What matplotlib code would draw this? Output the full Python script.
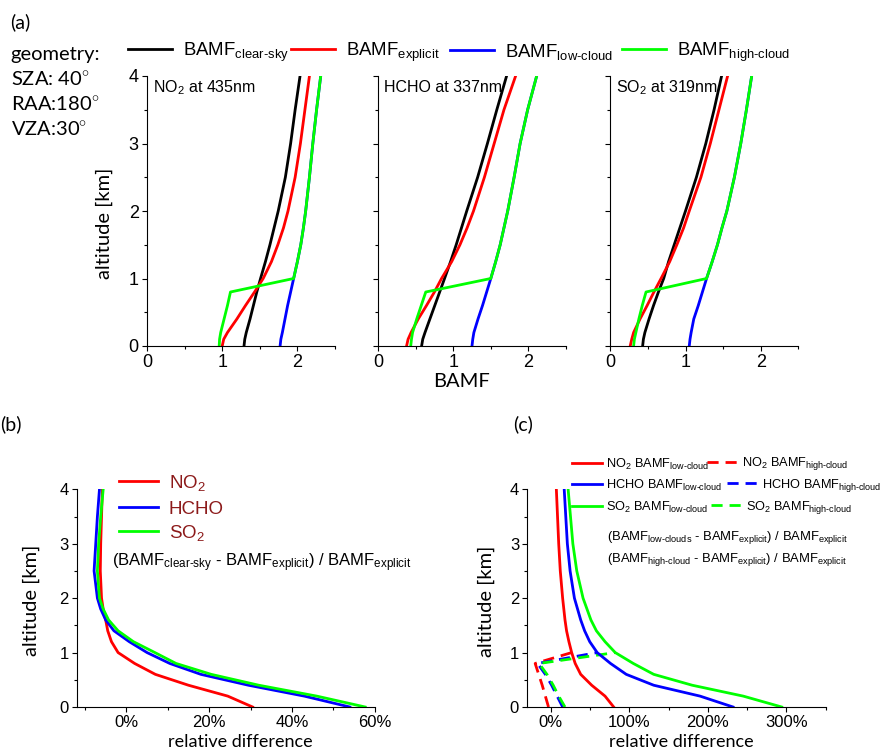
import matplotlib
matplotlib.use("Agg")
import matplotlib.pyplot as plt
from matplotlib.ticker import MultipleLocator, PercentFormatter

plt.rcParams['font.family'] = ['Liberation Sans', 'DejaVu Sans']
plt.rcParams['mathtext.fontset'] = 'custom'
plt.rcParams['mathtext.rm'] = 'Liberation Sans'
plt.rcParams['mathtext.it'] = 'Liberation Sans:italic'
plt.rcParams['mathtext.bf'] = 'Liberation Sans:bold'
plt.rcParams['mathtext.sf'] = 'Liberation Sans'

# ---------------- data: panel (a) BAMF profiles ----------------
alt_a = [0, 0.1, 0.2, 0.4, 0.6, 0.8, 1.0, 1.25, 1.5, 1.75, 2.0, 2.5, 3.0, 3.5, 4.0]

no2_clear = [1.29, 1.30, 1.32, 1.37, 1.415, 1.46, 1.51, 1.575, 1.635, 1.69, 1.745, 1.84, 1.91, 1.97, 2.035]
no2_expl = [1.00, 1.02, 1.07, 1.195, 1.31, 1.43, 1.545, 1.655, 1.74, 1.815, 1.875, 1.97, 2.04, 2.10, 2.16]
no2_low = [1.77, 1.78, 1.80, 1.835, 1.87, 1.91, 1.95, 2.00, 2.045, 2.08, 2.11, 2.16, 2.205, 2.255, 2.31]
no2_high = [0.96, 0.965, 0.98, 1.025, 1.07, 1.11, 1.95, 2.00, 2.045, 2.08, 2.11, 2.16, 2.205, 2.255, 2.31]

hcho_clear = [0.58, 0.595, 0.625, 0.69, 0.755, 0.82, 0.885, 0.965, 1.04, 1.11, 1.18, 1.325, 1.455, 1.58, 1.71]
hcho_expl = [0.38, 0.40, 0.44, 0.535, 0.645, 0.75, 0.845, 0.98, 1.09, 1.185, 1.27, 1.415, 1.545, 1.675, 1.83]
hcho_low = [1.25, 1.26, 1.275, 1.33, 1.39, 1.445, 1.50, 1.565, 1.625, 1.675, 1.725, 1.81, 1.89, 1.99, 2.11]
hcho_high = [0.435, 0.445, 0.46, 0.515, 0.575, 0.635, 1.50, 1.565, 1.625, 1.675, 1.725, 1.81, 1.89, 1.99, 2.11]

so2_clear = [0.43, 0.44, 0.46, 0.515, 0.575, 0.64, 0.71, 0.775, 0.85, 0.925, 1.00, 1.145, 1.27, 1.38, 1.48]
so2_expl = [0.265, 0.285, 0.31, 0.395, 0.49, 0.58, 0.675, 0.79, 0.885, 0.975, 1.05, 1.205, 1.33, 1.445, 1.56]
so2_low = [1.05, 1.06, 1.075, 1.11, 1.17, 1.225, 1.28, 1.355, 1.425, 1.485, 1.55, 1.65, 1.735, 1.81, 1.88]
so2_high = [0.31, 0.32, 0.34, 0.38, 0.425, 0.475, 1.28, 1.355, 1.425, 1.485, 1.55, 1.65, 1.735, 1.81, 1.88]

panel_a_titles = ['NO$_2$ at 435nm', 'HCHO at 337nm', 'SO$_2$ at 319nm']

# ---------------- data: panel (b) relative difference clear vs explicit [%] ----------------
alt_b = [0, 0.2, 0.4, 0.6, 0.8, 1.0, 1.2, 1.4, 1.6, 1.8, 2.0, 2.5, 3.0, 3.5, 4.0]
rd_no2 = [30.5, 24.5, 15.0, 7.0, 2.0, -2.0, -3.6, -4.5, -5.0, -5.6, -6.0, -6.3, -6.2, -6.0, -5.8]
rd_hcho = [54.0, 43.0, 29.5, 18.0, 10.5, 5.0, 0.7, -3.0, -5.0, -6.2, -7.0, -7.8, -7.4, -7.0, -6.5]
rd_so2 = [57.7, 46.0, 32.0, 20.5, 12.0, 6.9, 1.7, -2.0, -4.3, -5.6, -6.5, -7.0, -6.7, -6.2, -5.6]

# ---------------- data: panel (c) relative difference cloud vs explicit [%] ----------------
low_no2 = [80, 69, 52, 38, 31, 26.5, 23, 20, 18, 16.5, 15, 12, 10, 8.5, 7]
low_hcho = [232, 190, 131, 96, 76, 59, 49.5, 43, 38, 34, 30, 24.5, 21, 19, 17]
low_so2 = [294, 245, 180, 131, 105, 82, 69, 58, 51, 46, 41, 33, 28, 25, 22]

alt_hc = [0, 0.2, 0.4, 0.6, 0.8, 1.0]
high_no2 = [-3, -7, -11, -15.5, -20, 26.5]
high_hcho = [15, 8, 1, -7, -17, 59]
high_so2 = [18, 10, 3, -5, -15, 82]

# ---------------- styling ----------------
RED, BLUE, GREEN, BLACK = '#ff0000', '#0000ff', '#00ff00', '#000000'
LW = 2.0
TICKFS_A = 13
TICKFS_B = 12
LABEL_FONT = ['Lato', 'DejaVu Sans']

W, H = 886, 752
fig = plt.figure(figsize=(W / 100, H / 100), dpi=100)


def px_axes(x0, x1, y0, y1):
    return fig.add_axes([x0 / W, 1 - y1 / H, (x1 - x0) / W, (y1 - y0) / H])


def style_axes(ax, fs):
    ax.spines['top'].set_visible(False)
    ax.spines['right'].set_visible(False)
    for s in ('left', 'bottom'):
        ax.spines[s].set_linewidth(0.8)
    ax.tick_params(which='major', direction='out', length=3.4, width=0.8, labelsize=fs, pad=2.5)
    ax.tick_params(which='minor', direction='out', length=2.0, width=0.8)
    ax.set_ylim(0, 4)
    ax.yaxis.set_major_locator(MultipleLocator(1))
    ax.yaxis.set_minor_locator(MultipleLocator(0.5))
    ax.set_facecolor('none')


def entry(handle, label, xpx, ypx, fs, hl, pad, color=None):
    """single legend entry placed at figure pixel position (handle start, centre)"""
    lg = fig.legend([handle], [label], loc='center left',
                    bbox_to_anchor=(xpx / W, 1 - ypx / H), frameon=False,
                    fontsize=fs, handlelength=hl, handletextpad=pad,
                    borderpad=0, borderaxespad=0)
    if color is not None:
        for t in lg.get_texts():
            t.set_color(color)
    return lg


# ---------------- panel (a) ----------------
lefts = [147, 378, 610.3]
series_a = [
    (no2_clear, no2_expl, no2_low, no2_high),
    (hcho_clear, hcho_expl, hcho_low, hcho_high),
    (so2_clear, so2_expl, so2_low, so2_high),
]
axes_a = []
for i, (left, (clr, exp, low, high)) in enumerate(zip(lefts, series_a)):
    ax = px_axes(left, left + 188, 76, 346)
    style_axes(ax, TICKFS_A)
    ax.set_xlim(0, 2.5)
    ax.xaxis.set_major_locator(MultipleLocator(1))
    ax.xaxis.set_minor_locator(MultipleLocator(0.5))
    h1, = ax.plot(clr, alt_a, color=BLACK, lw=LW)
    h2, = ax.plot(exp, alt_a, color=RED, lw=LW)
    h3, = ax.plot(low, alt_a, color=BLUE, lw=LW)
    h4, = ax.plot(high, alt_a, color=GREEN, lw=LW)
    ax.text(0.03, 0.94, panel_a_titles[i], transform=ax.transAxes, fontsize=11.5,
            ha='left', va='baseline')
    if i > 0:
        ax.tick_params(labelleft=False)
    axes_a.append(ax)

axes_a[0].set_ylabel('altitude [km]', family=LABEL_FONT, fontsize=14.5, va='center')
axes_a[0].yaxis.set_label_coords(-0.225, 0.455)
axes_a[1].set_xlabel('BAMF', family=LABEL_FONT, fontsize=14.5, va='center')
axes_a[1].xaxis.set_label_coords(0.444, -0.13)

labels_a = [r'BAMF$_{\text{clear-sky}}$', r'BAMF$_{\text{explicit}}$',
            r'BAMF$_{\text{low-cloud}}$', r'BAMF$_{\text{high-cloud}}$']
for h, lab, xpx in zip([h1, h2, h3, h4], labels_a, [128, 291, 450, 622]):
    entry(h, lab, xpx, 52, 13.4, 2.35, 0.6)

for txt, ypx in zip(['geometry:', r'SZA: 40$^{\circ}$', r'RAA:180$^{\circ}$', r'VZA:30$^{\circ}$'],
                    [60, 86, 110.7, 136]):
    fig.text(10.7 / W, 1 - ypx / H, txt, family=LABEL_FONT, fontsize=14.5, va='baseline')

fig.text(10 / W, 1 - 22 / H, '(a)', family=LABEL_FONT, fontsize=14, va='center')
fig.text(0 / W, 1 - 424 / H, '(b)', family=LABEL_FONT, fontsize=14, va='center')
fig.text(513 / W, 1 - 424 / H, '(c)', family=LABEL_FONT, fontsize=14, va='center')

# ---------------- panel (b) ----------------
axb = px_axes(76.7, 374.7, 489.3, 707)
style_axes(axb, TICKFS_B)
axb.set_xlim(-12, 60)
axb.xaxis.set_major_locator(MultipleLocator(20))
axb.xaxis.set_minor_locator(MultipleLocator(10))
axb.xaxis.set_major_formatter(PercentFormatter(decimals=0))
b1, = axb.plot(rd_no2, alt_b, color=RED, lw=LW)
b2, = axb.plot(rd_hcho, alt_b, color=BLUE, lw=LW)
b3, = axb.plot(rd_so2, alt_b, color=GREEN, lw=LW)
for h, lab, ypx in zip([b1, b2, b3], ['NO$_2$', 'HCHO', 'SO$_2$'], [483, 509, 533]):
    entry(h, lab, 119, ypx, 13.5, 2.1, 0.55, color='#8c1a1a')
axb.text((111.7 - 76.7) / 298, (707 - 566.7) / 217.7,
         r'(BAMF$_{\text{clear-sky}}$ - BAMF$_{\text{explicit}}$) / BAMF$_{\text{explicit}}$',
         transform=axb.transAxes, fontsize=12.0, ha='left', va='baseline')
axb.set_ylabel('altitude [km]', family=LABEL_FONT, fontsize=14.5, va='center')
axb.yaxis.set_label_coords(-0.151, 0.49)
axb.set_xlabel('relative difference', family=LABEL_FONT, fontsize=13, va='center')
axb.xaxis.set_label_coords(0.548, -0.159)

# ---------------- panel (c) ----------------
axc = px_axes(527.3, 825.7, 489.3, 707)
style_axes(axc, TICKFS_B)
axc.set_xlim(-30, 350)
axc.xaxis.set_major_locator(MultipleLocator(100))
axc.xaxis.set_minor_locator(MultipleLocator(50))
axc.xaxis.set_major_formatter(PercentFormatter(decimals=0))
dash = (4.0, 2.5)
d1, = axc.plot(high_no2, alt_hc, color=RED, lw=LW, dashes=dash)
d2, = axc.plot(high_hcho, alt_hc, color=BLUE, lw=LW, dashes=dash)
d3, = axc.plot(high_so2, alt_hc, color=GREEN, lw=LW, dashes=dash)
c1, = axc.plot(low_no2, alt_b, color=RED, lw=LW)
c2, = axc.plot(low_hcho, alt_b, color=BLUE, lw=LW)
c3, = axc.plot(low_so2, alt_b, color=GREEN, lw=LW)

LFS_C = 9.2
rows_c = [
    (c1, d1, 'NO$_2$ BAMF$_{\\text{low-cloud}}$', 'NO$_2$ BAMF$_{\\text{high-cloud}}$', 464.0, 707),
    (c2, d2, 'HCHO BAMF$_{\\text{low-cloud}}$', 'HCHO BAMF$_{\\text{high-cloud}}$', 485.5, 727),
    (c3, d3, 'SO$_2$ BAMF$_{\\text{low-cloud}}$', 'SO$_2$ BAMF$_{\\text{high-cloud}}$', 507.5, 711),
]
for hs, hd, ls, ld, ypx, xd in rows_c:
    entry(hs, ls, 572, ypx, LFS_C, 2.35, 0.35)
    entry(hd, ld, xd, ypx, LFS_C, 2.35, 0.35)

axc.text((606.7 - 527.3) / 298.4, (707 - 540) / 217.7,
         r'(BAMF$_{\text{low-clouds}}$ - BAMF$_{\text{explicit}}$) / BAMF$_{\text{explicit}}$',
         transform=axc.transAxes, fontsize=9.4, ha='left', va='baseline')
axc.text((606.7 - 527.3) / 298.4, (707 - 562) / 217.7,
         r'(BAMF$_{\text{high-cloud}}$ - BAMF$_{\text{explicit}}$) / BAMF$_{\text{explicit}}$',
         transform=axc.transAxes, fontsize=9.4, ha='left', va='baseline')
axc.set_ylabel('altitude [km]', family=LABEL_FONT, fontsize=14.5, va='center')
axc.yaxis.set_label_coords(-0.136, 0.485)
axc.set_xlabel('relative difference', family=LABEL_FONT, fontsize=13, va='center')
axc.xaxis.set_label_coords(0.517, -0.159)

fig.savefig('out.png', dpi=100)
